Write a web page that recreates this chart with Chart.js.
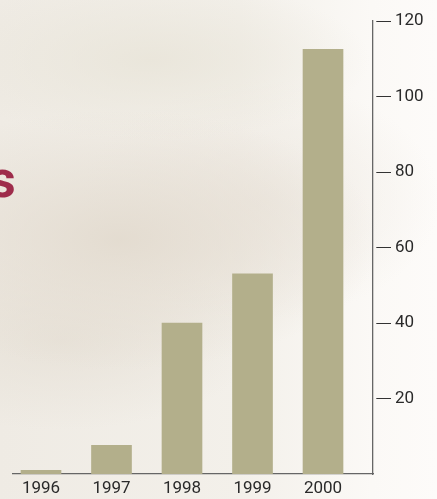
<!DOCTYPE html>
<html><head><meta charset="utf-8">
<script src="https://cdn.jsdelivr.net/npm/chart.js@4/dist/chart.umd.min.js"></script>
<style>
html,body{margin:0;padding:0;}
body{width:437px;height:499px;overflow:hidden;position:relative;
background:
 radial-gradient(ellipse 260px 130px at 120px 240px, rgba(226,218,206,0.9), rgba(226,218,206,0) 100%),
 radial-gradient(ellipse 200px 90px at 60px 340px, rgba(230,224,214,0.8), rgba(230,224,214,0) 100%),
 radial-gradient(ellipse 220px 80px at 150px 60px, rgba(232,228,216,0.8), rgba(232,228,216,0) 100%),
 radial-gradient(ellipse 180px 120px at 260px 200px, rgba(236,230,222,0.7), rgba(236,230,222,0) 100%),
 linear-gradient(to right, #efebe4 0%, #f3f0ea 55%, #fbf9f6 85%, #fdfbf9 100%);}
#title{position:absolute;left:-11px;top:154px;font-family:Roboto,sans-serif;font-weight:bold;font-size:52px;line-height:1;color:#9e2c4b;}
#wrap{position:absolute;left:0;top:0;width:437px;height:499px;}
</style></head><body>
<div id="title">s</div>
<div id="wrap"><canvas id="c"></canvas></div>
<script>
const years = [1996, 1997, 1998, 1999, 2000];
const values = [1, 7.6, 40, 53, 112.5];
const yTicks = [20, 40, 60, 80, 100, 120];

const axisColor = '#666';
const textColor = '#2a2a2a';

new Chart(document.getElementById('c'), {
  type: 'bar',
  data: {
    datasets: [{
      data: years.map((y, i) => ({x: y, y: values[i]})),
      backgroundColor: '#b3af8b',
      borderWidth: 0,
      barThickness: 40
    }]
  },
  options: {
    responsive: true,
    maintainAspectRatio: false,
    animation: false,
    layout: {padding: {top: 21, left: 13, right: 0, bottom: 0}},
    plugins: {legend: {display: false}, tooltip: {enabled: false}},
    scales: {
      x: {
        type: 'linear',
        offset: false,
        min: 1995.603,
        max: 2000.709,
        afterBuildTicks: s => { s.ticks = years.map(v => ({value: v})); },
        afterFit: s => { s.height = 25; },
        grid: {display: true, drawOnChartArea: false, drawTicks: false},
        border: {display: true, color: axisColor, width: 1.3},
        ticks: {
          color: textColor, padding: 5, maxRotation: 0, autoSkip: false,
          font: {family: 'Roboto', size: 17},
          callback: v => String(v)
        }
      },
      y: {
        position: 'right',
        min: 0,
        max: 120,
        afterBuildTicks: s => { s.ticks = yTicks.map(v => ({value: v})); },
        afterFit: s => { s.width = 64; },
        grid: {drawOnChartArea: false, drawTicks: true, tickLength: 18, tickColor: '#333', tickWidth: 1.2, tickBorderDash: [0, 3, 15, 100]},
        border: {display: true, color: axisColor, width: 1.3},
        ticks: {color: textColor, padding: 4, font: {family: 'Roboto', size: 17}}
      }
    }
  }
});
</script>
</body></html>
